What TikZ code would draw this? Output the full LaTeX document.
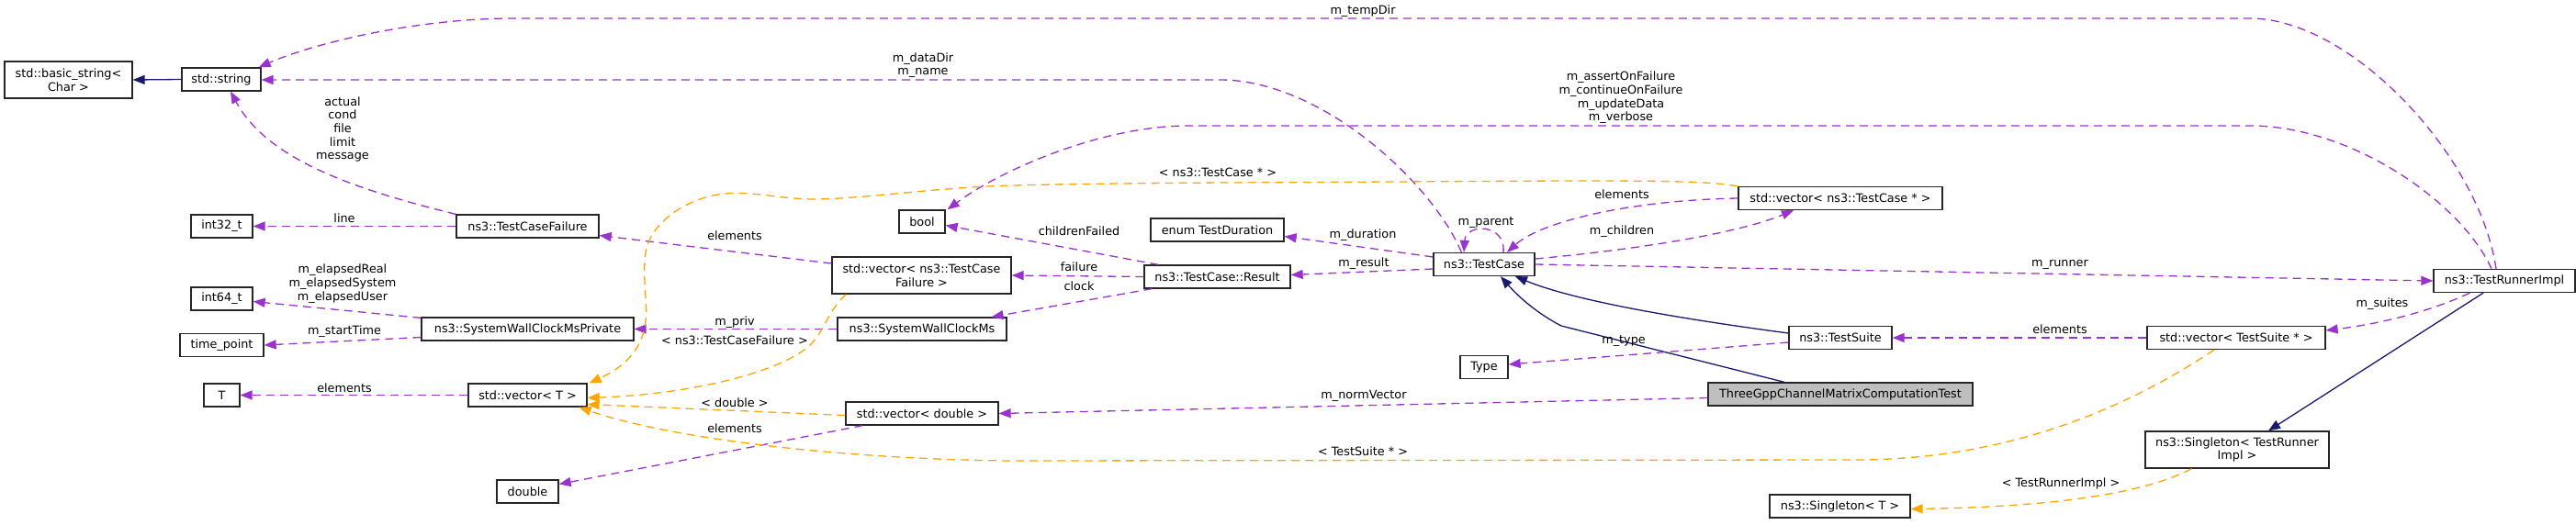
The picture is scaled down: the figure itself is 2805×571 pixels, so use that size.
\documentclass[tikz,border=0pt]{standalone}
\usepackage{fontspec}
\setmainfont{DejaVu Sans}
\usetikzlibrary{arrows.meta,calc}
\definecolor{memc}{HTML}{9A32CD}
\definecolor{tplc}{HTML}{FFA500}
\definecolor{inhc}{HTML}{191970}
\definecolor{grayfill}{HTML}{BFBFBF}
\begin{document}
\begin{tikzpicture}[x=1pt,y=-1pt,
  box/.style={draw=black!85, line width=1.3pt, fill=white, inner sep=0pt, minimum height=25pt, align=center, font=\fontsize{12.8}{14.7}\selectfont},
  lab/.style={inner sep=0pt, align=center, font=\fontsize{12.8}{14.7}\selectfont},
  memedge/.style={draw=memc, line width=1.3pt, dash pattern=on 9pt off 6pt, -{Triangle[length=13pt,width=10pt]}},
  tpledge/.style={draw=tplc, line width=1.3pt, dash pattern=on 9pt off 6pt, -{Triangle[length=13pt,width=10pt]}},
  inhedge/.style={draw=inhc, line width=1.3pt, -{Triangle[length=13pt,width=10pt]}},
  plainmem/.style={draw=memc, line width=1.3pt, dash pattern=on 9pt off 6pt}
]
\fill[white] (0,0) rectangle (2805,571);
\useasboundingbox (0,0) rectangle (2805,571);

% nodes
\node[box, minimum width=139pt, minimum height=40pt] (bstr) at (74.5,87) {std::basic\_string<\\Char >};
\node[box, minimum width=86pt] (str) at (241,86.5) {std::string};
\node[box, minimum width=67pt] (i32) at (241.5,246.5) {int32\_t};
\node[box, minimum width=155pt] (tcf) at (574.5,246.5) {ns3::TestCaseFailure};
\node[box, minimum width=67pt] (i64) at (241.5,325.5) {int64\_t};
\node[box, minimum width=91pt] (tp) at (241.5,376) {time\_point};
\node[box, minimum width=39pt] (T) at (241.5,430.5) {T};
\node[box, minimum width=231pt] (swcmp) at (574.5,358.5) {ns3::SystemWallClockMsPrivate};
\node[box, minimum width=129pt] (vecT) at (574.5,430.5) {std::vector< T >};
\node[box, minimum width=67pt] (dbl) at (574.5,535.5) {double};
\node[box, minimum width=50pt] (bool) at (1004,241.5) {bool};
\node[box, minimum width=195pt, minimum height=40pt] (vtcf) at (1003.5,300) {std::vector< ns3::TestCase\\Failure >};
\node[box, minimum width=184pt] (swcm) at (1004,358.5) {ns3::SystemWallClockMs};
\node[box, minimum width=166pt] (vdbl) at (1004,450.5) {std::vector< double >};
\node[box, minimum width=145pt] (etd) at (1325.5,250.5) {enum TestDuration};
\node[box, minimum width=159pt] (res) at (1325.5,301.5) {ns3::TestCase::Result};
\node[box, minimum width=110pt] (tc) at (1616,288) {ns3::TestCase};
\node[box, minimum width=222pt] (vtc) at (2004,216) {std::vector< ns3::TestCase * >};
\node[box, minimum width=52pt] (type) at (1616,400) {Type};
\node[box, minimum width=112pt] (ts) at (2004,368) {ns3::TestSuite};
\node[box, minimum width=288pt, fill=grayfill] (three) at (2004,429.5) {ThreeGppChannelMatrixComputationTest};
\node[box, minimum width=194pt] (vts) at (2435,368) {std::vector< TestSuite * >};
\node[box, minimum width=154pt] (tri) at (2727,306) {ns3::TestRunnerImpl};
\node[box, minimum width=200pt, minimum height=40pt] (stri) at (2436,490) {ns3::Singleton< TestRunner\\Impl >};
\node[box, minimum width=153pt] (sT) at (2003.5,551.5) {ns3::Singleton< T >};

% inheritance
\draw[inhedge] (str.west) -- (bstr.east);
\draw[inhedge] ($(ts.west)+(0,-5)$) .. controls (1850,350) and (1720,330) .. ($(tc.south)+(34,0)$);
\draw[inhedge] ($(three.north)+(-61,0)$) -- (1700,355) .. controls (1675,342) and (1655,325) .. ($(tc.south)+(18,0)$);
\draw[inhedge] ($(tri.south)+(-23,0)$) -- ($(stri.north)+(34,0)$);

% members
\draw[memedge] (tcf.north west) .. controls (380,205) and (290,172) .. ($(str.south)+(10,0)$);
\draw[memedge] (tcf.west) -- (i32.east);
\draw[memedge] ($(swcmp.north west)+(0,1)$) -- ($(i64.east)+(0,3)$);
\draw[memedge] ($(swcmp.west)+(0,9)$) -- (tp.east);
\draw[memedge] (vecT.west) -- (T.east);
\draw[memedge] ($(vtcf.west)+(0,-13)$) -- ($(tcf.east)+(0,10)$);
\draw[memedge] (swcm.west) -- (swcmp.east);
\draw[memedge] ($(vdbl.south west)+(19,0)$) -- ($(dbl.east)+(0,-8)$);
\draw[memedge] ($(res.north west)+(16,0)$) -- ($(bool.east)+(0,4)$);
\draw[memedge] (res.west) -- (vtcf.east);
\draw[memedge] ($(res.south west)+(9,0)$) -- ($(swcm.north east)+(-17,0)$);
\draw[memedge] ($(tc.west)+(0,-8)$) -- ($(etd.east)+(0,7)$);
\draw[memedge] ($(tc.west)+(0,5)$) -- ($(res.east)+(0,-2)$);
\draw[memedge] ($(tc.north west)+(31,0)$) .. controls (1560,200) and (1440,88) .. (1330,87) -- ($(str.east)+(0,0.5)$);
\draw[memedge] ($(tc.north)+(21,0)$) .. controls (1640,243) and (1596,243) .. ($(tc.north)+(-22,0)$);
\draw[memedge] (vtc.west) .. controls (1780,218) and (1680,240) .. ($(tc.north)+(25,0)$);
\draw[memedge] ($(tc.east)+(0,-6)$) .. controls (1780,272) and (1890,255) .. ($(vtc.south)+(-51,0)$);
\draw[memedge] (tc.east) -- (tri.west);
\draw[memedge] ($(ts.west)+(0,5)$) -- ($(type.east)+(0,-3)$);
\draw[memedge] (vts.west) -- (ts.east);
\draw[memedge] ($(tri.south west)+(40,0)$) .. controls (2645,340) and (2590,353) .. ($(vts.east)+(0,-8)$);
\draw[memedge] ($(three.west)+(0,4)$) -- (vdbl.east);
\draw[memedge] ($(tri.north)+(-9,0)$) .. controls (2700,170) and (2560,20) .. (2450,20) -- (560,20) .. controls (450,20) and (340,48) .. ($(str.north east)+(-3,0)$);
\draw[memedge] ($(tri.north)+(-14,0)$) .. controls (2680,220) and (2560,137) .. (2450,137) -- (1294,137) .. controls (1200,137) and (1090,185) .. ($(bool.north east)+(2,0)$);

% template instances
\draw[tpledge] (vtc.north west) .. controls (1860,197) and (1800,197) .. (1700,197) -- (1330,199) .. controls (1200,200) and (1120,201) .. (1076,203) .. controls (1000,207) and (930,217) .. (887,217) .. controls (850,217) and (820,208) .. (789,211) .. controls (750,215) and (712,240) .. (704,270) .. controls (698,300) and (706,330) .. (703,350) .. controls (700,380) and (680,400) .. ($(vecT.north east)+(2,0)$);
\draw[tpledge] ($(vtcf.south west)+(16,0)$) .. controls (900,340) and (898,362) .. (880,378) .. controls (840,410) and (740,430) .. ($(vecT.east)+(0,3)$);
\draw[tpledge] ($(vdbl.west)+(0,2)$) -- ($(vecT.east)+(0,10)$);
\draw[tpledge] ($(vts.south)+(-24,0)$) .. controls (2330,435) and (2200,501) .. (2020,501) -- (1100,502) .. controls (900,500) and (720,475) .. ($(vecT.south east)+(-9,0)$);
\draw[tpledge] ($(stri.south west)+(51,0)$) .. controls (2340,535) and (2250,552) .. ($(sT.east)+(0,3)$);

% labels
\node[lab] (l1) at (373,141) {actual\\cond\\file\\limit\\message};
\node[lab] (l2) at (375,238) {line};
\node[lab] (l3) at (373,309) {m\_elapsedReal\\m\_elapsedSystem\\m\_elapsedUser};
\node[lab] (l4) at (375,361) {m\_startTime};
\node[lab] (l5) at (375,423) {elements};
\node[lab] (l6) at (800,257) {elements};
\node[lab] (l7) at (800,351) {m\_priv};
\node[lab] (l8) at (800,371) {< ns3::TestCaseFailure >};
\node[lab] (l9) at (800,439) {< double >};
\node[lab] (l10) at (800,467) {elements};
\node[lab] (l11) at (1005,71) {m\_dataDir\\m\_name};
\node[lab] (l12) at (1326,188) {< ns3::TestCase * >};
\node[lab] (l13) at (1175,252) {childrenFailed};
\node[lab] (l14) at (1175,291) {failure};
\node[lab] (l15) at (1175,312) {clock};
\node[lab] (l16) at (1484,12) {m\_tempDir};
\node[lab] (l17) at (1765,106.5) {m\_assertOnFailure\\m\_continueOnFailure\\m\_updateData\\m\_verbose};
\node[lab] (l18) at (1484,256) {m\_duration};
\node[lab] (l19) at (1485,287) {m\_result};
\node[lab] (l20) at (1485,431) {m\_normVector};
\node[lab] (l21) at (1484,492) {< TestSuite * >};
\node[lab] (l22) at (1618,243) {m\_parent};
\node[lab] (l23) at (1766,212) {elements};
\node[lab] (l24) at (1766,252) {m\_children};
\node[lab] (l25) at (1768,372) {m\_type};
\node[lab] (l26) at (2243,288) {m\_runner};
\node[lab] (l27) at (2243,359) {elements};
\node[lab] (l28) at (2594,331) {m\_suites};
\node[lab] (l29) at (2244,527) {< TestRunnerImpl >};
\end{tikzpicture}
\end{document}
